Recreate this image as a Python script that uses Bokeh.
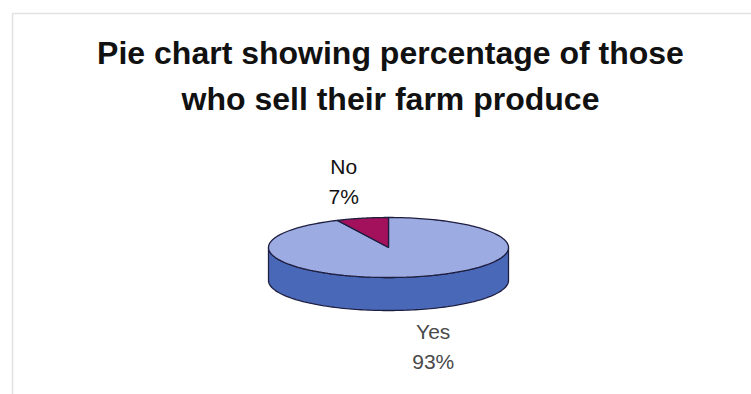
import numpy as np
from bokeh.plotting import figure
from bokeh.models import Range1d, Label, BoxAnnotation, ColumnDataSource
from bokeh.core.properties import value
from bokeh.embed import file_html
from bokeh.resources import INLINE

# ---- data ----
title_lines = ["Pie chart showing percentage of those", "who sell their farm produce"]
categories = ["Yes", "No"]
percentages = [93, 7]

# ---- style ----
W, H = 751, 394
top_colors = ["#9dabe3", "#a3105c"]
side_colors = ["#4a68b8", "#6e0a3e"]
label_colors = ["#4a4a4a", "#111111"]
edge_color = "#1e1e40"
cx, cy = 388, 247          # pie centre (pixels)
rx, ry = 120, 30           # ellipse radii
depth = 33                 # 3-D thickness
font = "Liberation Sans"

p = figure(width=W, height=H, output_backend="svg", toolbar_location=None,
           x_range=Range1d(0, W), y_range=Range1d(H, 0), min_border=0)
p.axis.visible = False
p.grid.visible = False
p.outline_line_color = None
p.background_fill_color = "white"
p.border_fill_color = "white"

# chart frame
p.add_layout(BoxAnnotation(left=12, right=W + 20, top=13, bottom=H + 20,
                           fill_alpha=0, line_color="#a0a0a0", line_width=1.5))

total = float(sum(percentages))
def ell(t, dz=0.0):
    t = np.radians(t)
    return cx + rx * np.cos(t), cy - ry * np.sin(t) + dz

starts, ends = [], []
acc = 0.0
for v in percentages:
    a0 = 90 - acc / total * 360
    a1 = a0 - v / total * 360
    starts.append(a0); ends.append(a1)
    acc += v

# sides (front-visible portions only)
side_xs, side_ys, side_fill = [], [], []
for i, (a0, a1) in enumerate(zip(starts, ends)):
    lo, hi = a1, a0
    for base in (-540, -180, 180):
        s, e = max(lo, base), min(hi, base + 180)
        if e - s > 0.01:
            t = np.linspace(s, e, 120)
            xt, yt = ell(t)
            xb, yb = ell(t[::-1], depth)
            side_xs.append(list(np.concatenate([xt, xb])))
            side_ys.append(list(np.concatenate([yt, yb])))
            side_fill.append(side_colors[i])
p.patches(xs=side_xs, ys=side_ys, fill_color=side_fill, line_color=edge_color, line_width=1.3)

# top faces
top_xs, top_ys = [], []
for a0, a1 in zip(starts, ends):
    t = np.linspace(a0, a1, 200)
    xt, yt = ell(t)
    top_xs.append([cx] + list(xt))
    top_ys.append([cy] + list(yt))
p.patches(xs=top_xs, ys=top_ys, fill_color=top_colors, line_color=edge_color, line_width=1.3)

# data labels
lx, ly, lt = [], [], []
for c, v, a0, a1 in zip(categories, percentages, starts, ends):
    m = np.radians((a0 + a1) / 2)
    x = cx + (rx + 85) * np.cos(m)
    y = cy - (ry + 38) * np.sin(m) + (depth if np.sin(m) < 0 else 0)
    lx.append(x); ly.append(y); lt.append(f"{c}\n{v}%")
src = ColumnDataSource(dict(x=lx, y=ly, text=lt, color=label_colors))
p.text(x="x", y="y", text="text", source=src, text_align="center", text_baseline="middle",
       text_font=value(font), text_font_size="21px", text_color="color", text_line_height=1.3)

# title
for i, line in enumerate(title_lines):
    p.add_layout(Label(x=390, y=52 + i * 46, text=line, text_align="center", text_baseline="middle",
                       text_font=font, text_font_size="32px", text_font_style="bold",
                       text_color="#111111"))

open("out.html", "w").write(file_html(p, INLINE))
